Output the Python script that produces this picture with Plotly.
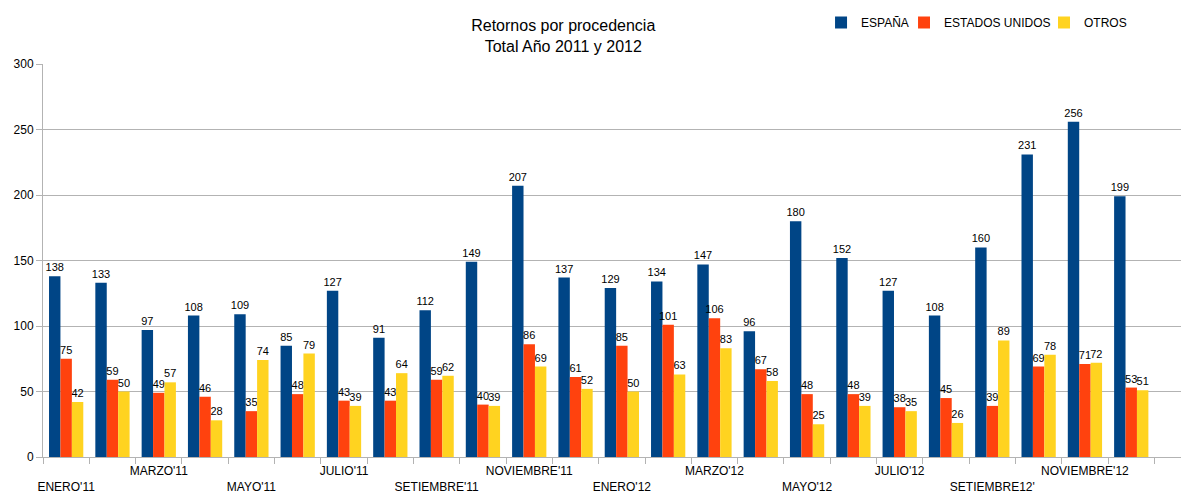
import plotly.graph_objects as go

# months in the chart, 2011 and 2012
meses = [
    "ENE11", "FEB11", "MAR11", "ABR11", "MAY11", "JUN11",
    "JUL11", "AGO11", "SET11", "OCT11", "NOV11", "DIC11",
    "ENE12", "FEB12", "MAR12", "ABR12", "MAY12", "JUN12",
    "JUL12", "AGO12", "SET12", "OCT12", "NOV12", "DIC12",
]
# only every other month has a label, alternating low / high row
etiquetas = [
    "ENERO'11", "", "MARZO'11", "", "MAYO'11", "",
    "JULIO'11", "", "SETIEMBRE'11", "", "NOVIEMBRE'11", "",
    "ENERO'12", "", "MARZO'12", "", "MAYO'12", "",
    "JULIO'12", "", "SETIEMBRE12'", "", "NOVIEMBRE'12", "",
]

espana = [138, 133, 97, 108, 109, 85, 127, 91, 112, 149, 207, 137,
          129, 134, 147, 96, 180, 152, 127, 108, 160, 231, 256, 199]
estados_unidos = [75, 59, 49, 46, 35, 48, 43, 43, 59, 40, 86, 61,
                  85, 101, 106, 67, 48, 48, 38, 45, 39, 69, 71, 53]
otros = [42, 50, 57, 28, 74, 79, 39, 64, 62, 39, 69, 52,
         50, 63, 83, 58, 25, 39, 35, 26, 89, 78, 72, 51]

series = [
    ("ESPAÑA", espana, "#004586"),
    ("ESTADOS UNIDOS", estados_unidos, "#ff420e"),
    ("OTROS", otros, "#ffd320"),
]

# one legend per series so the entries can sit tighter than plotly's default
legend_ids = ["legend2", "legend3", "legend4"]
legend_x = [0.6838, 0.7536, 0.8713]

fig = go.Figure()
for (nombre, valores, color), lid in zip(series, legend_ids):
    fig.add_trace(
        go.Bar(
            x=meses,
            y=valores,
            name=nombre,
            legend=lid,
            marker=dict(color=color, line=dict(width=0)),
            text=valores,
            textposition="outside",
            constraintext="none",
            cliponaxis=False,
            textfont=dict(size=11, color="black"),
        )
    )

# low row gets a leading line break so labels are staggered
ticktext = []
for i, t in enumerate(etiquetas):
    if t and i % 4 == 0:
        ticktext.append("<br>" + t)
    else:
        ticktext.append(t)

legend_style = dict(
    orientation="h",
    xref="container",
    yref="container",
    xanchor="left",
    y=1.0,
    yanchor="top",
    font=dict(size=12),
    itemwidth=30,
    bgcolor="rgba(0,0,0,0)",
)

# the page body adds an 8px offset, so everything is measured from there
fig.update_layout(
    width=1189,
    height=485,
    paper_bgcolor="white",
    plot_bgcolor="white",
    font=dict(family="Liberation Sans, Arial, sans-serif", size=12, color="black"),
    barmode="group",
    bargap=0.26,
    bargroupgap=0,
    title=dict(
        text="Retornos por procedencia<br>Total Año 2011 y 2012",
        x=0.467,
        xanchor="center",
        y=1 - 23 / 485,
        yanchor="middle",
        font=dict(size=16),
    ),
    legend2=dict(legend_style, x=legend_x[0]),
    legend3=dict(legend_style, x=legend_x[1]),
    legend4=dict(legend_style, x=legend_x[2]),
    margin=dict(l=35, r=0, t=56, b=36, autoexpand=False),
)

fig.update_xaxes(
    type="category",
    tickvals=meses,
    ticktext=ticktext,
    range=[-0.5, 24.42],
    tickson="boundaries",
    ticks="outside",
    ticklen=6,
    tickcolor="#b3b3b3",
    showline=True,
    linecolor="#b3b3b3",
    linewidth=1,
    showgrid=False,
    tickangle=0,
    tickfont=dict(size=12),
    automargin=False,
    ticklabelstandoff=3,
)
fig.update_yaxes(
    range=[0, 300],
    dtick=50,
    ticks="outside",
    ticklen=6,
    tickcolor="#b3b3b3",
    showline=True,
    linecolor="#b3b3b3",
    linewidth=1,
    showgrid=True,
    gridcolor="#b3b3b3",
    zeroline=False,
    tickfont=dict(size=12),
    automargin=False,
)

fig.write_html("out.html")
